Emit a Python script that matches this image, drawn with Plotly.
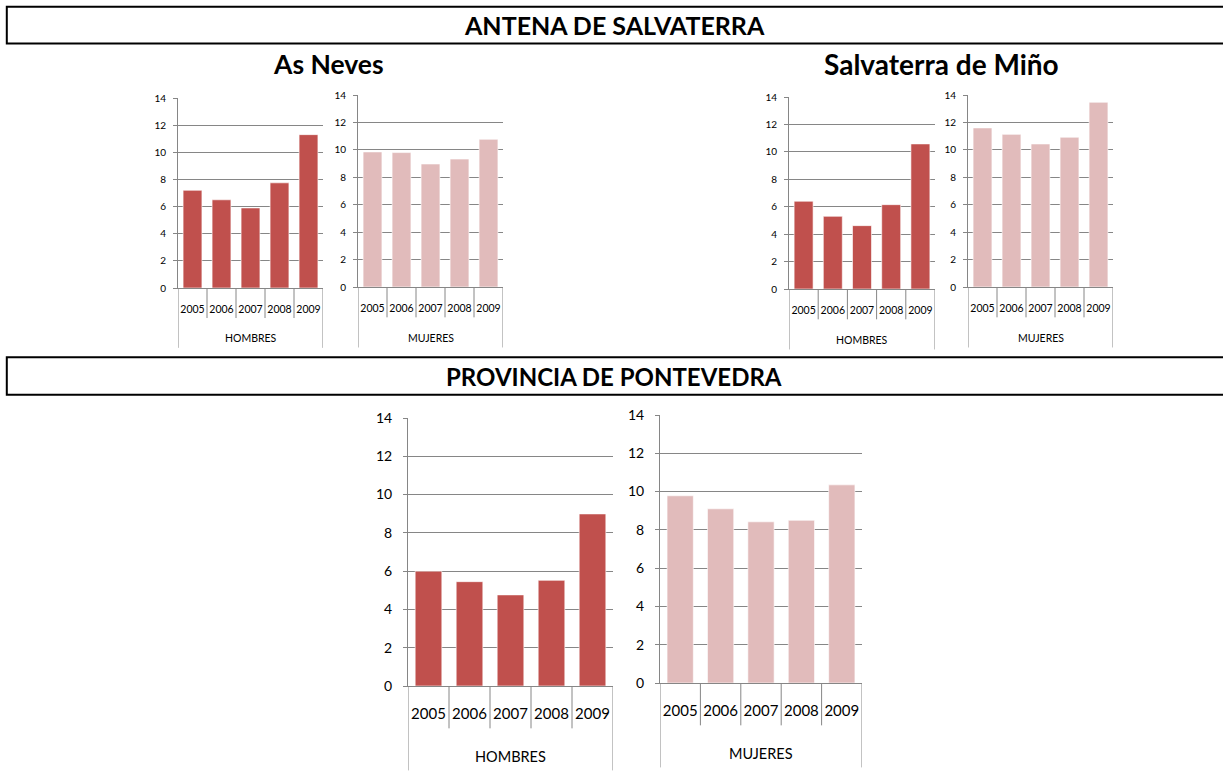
import plotly.graph_objects as go

W, H = 1223, 774

years = ["2005", "2006", "2007", "2008", "2009"]
groups = ["HOMBRES", "MUJERES"]

as_neves_h = [7.2, 6.5, 5.9, 7.75, 11.3]
as_neves_m = [9.85, 9.8, 8.97, 9.33, 10.77]
salvaterra_h = [6.4, 5.3, 4.62, 6.15, 10.58]
salvaterra_m = [11.6, 11.13, 10.43, 10.92, 13.47]
pontevedra_h = [6.0, 5.45, 4.76, 5.52, 8.99]
pontevedra_m = [9.78, 9.1, 8.42, 8.5, 10.35]

section_titles = ["ANTENA DE SALVATERRA", "PROVINCIA DE PONTEVEDRA"]
place_titles = ["As Neves", "Salvaterra de Miño"]

C_H = "#C0504D"
C_M = "#E1BBBB"
GRID = "#868686"
FONT = "Lato"

# panel layout in pixels: (x_left, x_right, y_top(14), y_bottom(0))
panels = [
    (as_neves_h, groups[0], C_H, (178, 323, 98, 288), "small"),
    (as_neves_m, groups[1], C_M, (358, 503, 95, 287), "small"),
    (salvaterra_h, groups[0], C_H, (789, 935, 97, 289), "small"),
    (salvaterra_m, groups[1], C_M, (968, 1113, 95, 287), "small"),
    (pontevedra_h, groups[0], C_H, (408, 613, 418, 686), "big"),
    (pontevedra_m, groups[1], C_M, (660, 862, 415, 683), "big"),
]

sizes = {
    "small": dict(ytick=10, xtick=10.5, group=10.5, ticklen=11, standoff=5),
    "big": dict(ytick=14, xtick=15, group=14.5, ticklen=14, standoff=8),
}

fig = go.Figure()
shapes = []
annotations = []

for i, (vals, grp, col, (xl, xr, yt, yb), sz) in enumerate(panels, start=1):
    s = sizes[sz]
    xa = "x" if i == 1 else f"x{i}"
    ya = "y" if i == 1 else f"y{i}"
    fig.add_trace(go.Bar(
        x=years, y=vals, xaxis=xa, yaxis=ya,
        marker=dict(color=col, line=dict(color="rgba(255,255,255,0.6)", width=1)),
        showlegend=False, hoverinfo="x+y",
    ))
    xkey = "xaxis" if i == 1 else f"xaxis{i}"
    ykey = "yaxis" if i == 1 else f"yaxis{i}"
    fig.update_layout({
        xkey: dict(
            domain=[xl / W, xr / W], anchor=ya, type="category",
            showgrid=False, showline=True, linecolor=GRID, linewidth=1,
            ticks="outside", ticklen=s["ticklen"], tickcolor="rgba(0,0,0,0)",
            tickfont=dict(family=FONT, size=s["xtick"], color="#000000"),
            fixedrange=True, range=[-0.5, 4.5], automargin=False, zeroline=False,
        ),
        ykey: dict(
            domain=[1 - yb / H, 1 - yt / H], anchor=xa,
            range=[0, 14], dtick=2, tick0=0,
            showgrid=True, gridcolor=GRID, gridwidth=1,
            showline=True, linecolor=GRID, linewidth=1,
            ticks="outside", ticklen=4, tickcolor=GRID,
            ticklabelstandoff=s["standoff"],
            tickfont=dict(family=FONT, size=s["ytick"], color="#000000"),
            zeroline=False, fixedrange=True, automargin=False,
        ),
    })
    xd = f"{xa} domain"
    yd = f"{ya} domain"
    # dividers between year labels
    for k in range(len(years) + 1):
        xpos = k - 0.5
        y1 = -0.315 if k in (0, len(years)) else -0.158
        shapes.append(dict(type="line", xref=xa, yref=yd, x0=xpos, x1=xpos,
                           y0=0, y1=y1, line=dict(color=GRID, width=1)))
    annotations.append(dict(text=grp, xref=xd, yref=yd, x=0.5, y=-0.264,
                            showarrow=False, yanchor="middle", xanchor="center",
                            font=dict(family=FONT, size=s["group"], color="#000000")))

# section header boxes
for title, (yt, yb), fs in zip(section_titles, [(6.8, 43.5), (357.3, 394.8)], [25, 24]):
    shapes.append(dict(type="rect", xref="paper", yref="paper",
                       x0=6.8 / W, x1=1.02, y0=1 - yb / H, y1=1 - yt / H,
                       line=dict(color="#000000", width=2)))
    annotations.append(dict(text=f"<b>{title}</b>", xref="paper", yref="paper",
                            x=614 / W, y=1 - ((yt + yb) / 2) / H, showarrow=False,
                            xanchor="center", yanchor="middle",
                            font=dict(family=FONT, size=fs, color="#000000")))

for title, xc, fs in zip(place_titles, [328, 941], [26.5, 28]):
    annotations.append(dict(text=f"<b>{title}</b>", xref="paper", yref="paper",
                            x=xc / W, y=1 - 64 / H, showarrow=False,
                            xanchor="center", yanchor="middle",
                            font=dict(family=FONT, size=fs, color="#000000")))

fig.update_layout(
    template="none",
    width=W, height=H,
    margin=dict(l=0, r=0, t=0, b=0, pad=0, autoexpand=False),
    paper_bgcolor="#FFFFFF", plot_bgcolor="#FFFFFF",
    bargap=0.35,
    shapes=shapes, annotations=annotations,
    font=dict(family=FONT),
)

post = (
    "var d=document.getElementById('{plot_id}');"
    "d.style.position='fixed';d.style.top='0px';d.style.left='0px';"
    "document.documentElement.style.margin='0';document.documentElement.style.overflow='hidden';"
    "document.body.style.margin='0';document.body.style.padding='0';document.body.style.overflow='hidden';"
)

fig.write_html("out.html", config={"displayModeBar": False}, post_script=post)
